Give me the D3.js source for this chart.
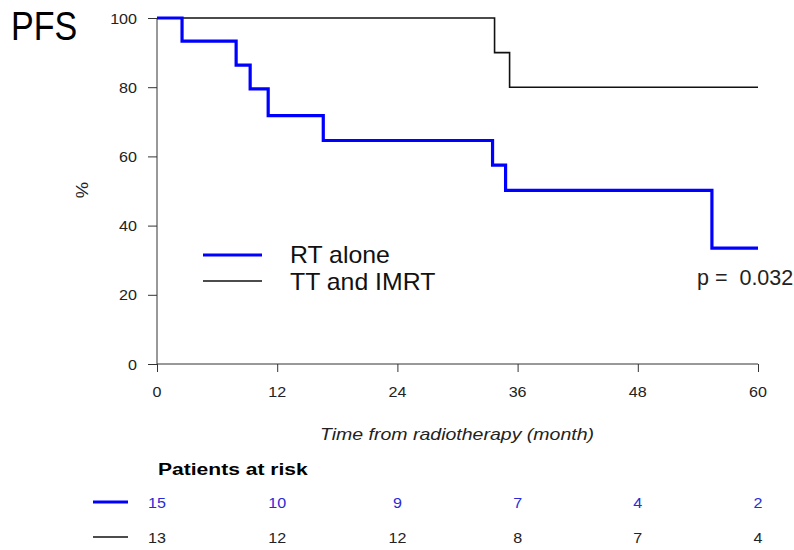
<!DOCTYPE html>
<html>
<head>
<meta charset="utf-8">
<script src="https://cdn.jsdelivr.net/npm/d3@7/dist/d3.min.js"></script>
<style>
html,body{margin:0;padding:0;background:#fff;}
svg{display:block;}
text{font-family:"Liberation Sans",Arial,sans-serif;}
</style>
</head>
<body>
<svg id="chart" width="794" height="550"></svg>
<script>
// ---- data ----
const rtTimes = [0, 2.5, 7.9, 9.3, 11.1, 16.6, 33.5, 34.8, 55.4, 60];
const rtSurv  = [100, 93.3, 86.4, 79.5, 71.8, 64.6, 57.5, 50.2, 33.5, 33.5];
const ttTimes = [0, 33.7, 35.2, 60];
const ttSurv  = [100, 90, 80, 80];
const xTicks = [0, 12, 24, 36, 48, 60];
const yTicks = [0, 20, 40, 60, 80, 100];
const seriesNames = ["RT alone", "TT and IMRT"];
const riskRT = [15, 10, 9, 7, 4, 2];
const riskTT = [13, 12, 12, 8, 7, 4];
const pText = "p =  0.032";

const svg = d3.select("#chart");
const x = d3.scaleLinear().domain([0, 60]).range([157, 758]);
const y = d3.scaleLinear().domain([0, 100]).range([364, 18]);
const SX = 1.15;
const axisCol = "#333";
const blue = "#0000ff";
const blueText = "#2a2ad8";

function txt(g, xx, yy, s, opts) {
  opts = opts || {};
  const sx = opts.sx || SX;
  return g.append("text")
    .attr("transform", `translate(${xx},${yy}) scale(${sx},1)`)
    .attr("text-anchor", opts.anchor || "middle")
    .attr("font-size", opts.size || 14)
    .attr("font-weight", opts.weight || "normal")
    .attr("font-style", opts.style || "normal")
    .attr("fill", opts.fill || "#222")
    .style("white-space", "pre")
    .text(s);
}

// PFS title
svg.append("text").attr("transform", "translate(11,40) scale(0.83,1)")
  .attr("font-family", "Lato, 'Open Sans', sans-serif")
  .attr("font-size", 41).attr("fill", "#000").text("PFS");

// axes
const xAxis = svg.append("g").attr("transform", "translate(0,364)")
  .call(d3.axisBottom(x).tickValues(xTicks).tickSize(8).tickFormat(""));
xAxis.selectAll("path,line").attr("stroke", axisCol).attr("stroke-width", 1);
xAxis.select(".domain").attr("d", `M${x(0)},0H${x(60)}`);
const yAxis = svg.append("g").attr("transform", "translate(157,0)")
  .call(d3.axisLeft(y).tickValues(yTicks).tickSize(9).tickFormat(""));
yAxis.selectAll("path,line").attr("stroke", axisCol).attr("stroke-width", 1);
yAxis.select(".domain").attr("d", `M0,${y(100)}V${y(0)}`);

xTicks.forEach(t => txt(svg, x(t), 397, String(t), {size: 14}));
yTicks.forEach(t => txt(svg, 137, y(t) + 5.5, String(t), {size: 14, anchor: "end"}));

// axis titles
txt(svg, 457, 440, "Time from radiotherapy (month)", {size: 16, style: "italic", sx: 1.22});
svg.append("text").attr("transform", "translate(88,190) rotate(-90) scale(1.15,1)")
  .attr("text-anchor", "middle").attr("font-size", 16).attr("fill", "#222").text("%");

// curves
const line = d3.line().curve(d3.curveStepAfter).x(d => x(d[0])).y(d => y(d[1]));
svg.append("path").datum(ttTimes.map((t, i) => [t, ttSurv[i]]))
  .attr("d", line).attr("fill", "none").attr("stroke", "#111").attr("stroke-width", 1.6);
svg.append("path").datum(rtTimes.map((t, i) => [t, rtSurv[i]]))
  .attr("d", line).attr("fill", "none").attr("stroke", blue).attr("stroke-width", 3.2);

// legend
svg.append("line").attr("x1", 203).attr("x2", 262).attr("y1", 255).attr("y2", 255)
  .attr("stroke", blue).attr("stroke-width", 3.2);
svg.append("line").attr("x1", 203).attr("x2", 262).attr("y1", 281).attr("y2", 281)
  .attr("stroke", "#111").attr("stroke-width", 1.6);
txt(svg, 290, 263, seriesNames[0], {size: 23, anchor: "start", sx: 1.08, fill: "#111"});
txt(svg, 290, 290, seriesNames[1], {size: 23, anchor: "start", sx: 1.08, fill: "#111"});

// p value
txt(svg, 697, 285, pText, {size: 21.5, anchor: "start", sx: 1.0, fill: "#222"});

// patients at risk
txt(svg, 158, 475, "Patients at risk", {size: 17, weight: "bold", anchor: "start", sx: 1.24, fill: "#000"});
svg.append("line").attr("x1", 93).attr("x2", 128).attr("y1", 502).attr("y2", 502)
  .attr("stroke", blue).attr("stroke-width", 3);
svg.append("line").attr("x1", 93).attr("x2", 128).attr("y1", 537).attr("y2", 537)
  .attr("stroke", "#111").attr("stroke-width", 1.3);
xTicks.forEach((t, i) => {
  txt(svg, x(t), 508, String(riskRT[i]), {size: 14, fill: blueText});
  txt(svg, x(t), 543, String(riskTT[i]), {size: 14, fill: "#222"});
});
</script>
</body>
</html>
